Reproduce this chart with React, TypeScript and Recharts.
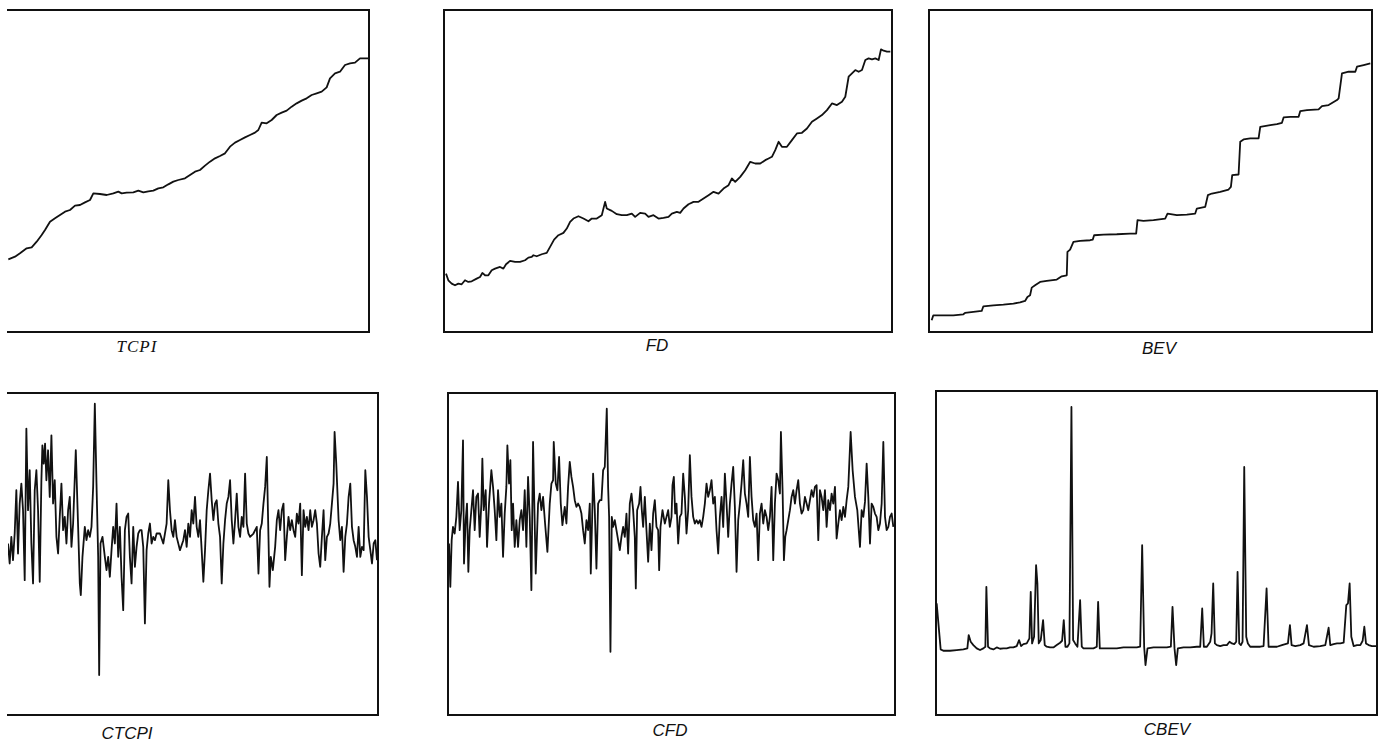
import React from 'react';
import { LineChart, Line, XAxis, YAxis } from 'recharts';

// each series is [t, value]; t is the sample position along the run
const TCPI: [number, number][] = [
  [25, 21.8], [45, 22.6], [60, 23.6], [80, 25.1], [95, 25.4], [110, 27.1], [125, 29.1], [135, 30.6],
  [150, 33.1], [165, 34.1], [180, 35.1], [195, 36.1], [210, 36.6], [225, 37.9], [240, 38.1], [255, 38.9],
  [270, 39.6], [280, 41.6], [300, 41.4], [320, 41.1], [340, 41.6], [355, 42.1], [365, 41.6], [380, 41.8],
  [400, 41.9], [415, 42.4], [430, 41.9], [445, 42.2], [460, 42.4], [475, 43.1], [490, 43.4], [505, 44.3],
  [520, 45.1], [535, 45.6], [555, 46.1], [570, 47.1], [585, 48.1], [600, 48.6], [615, 49.9], [630, 51.1],
  [645, 52.1], [660, 52.8], [675, 53.6], [690, 55.6], [705, 56.8], [720, 57.6], [735, 58.4], [750, 59.1],
  [765, 59.8], [775, 60.6], [785, 62.8], [800, 62.6], [815, 63.6], [830, 65.1], [845, 65.8], [860, 66.4],
  [875, 67.6], [890, 68.6], [905, 69.4], [920, 70.1], [935, 71.1], [950, 71.6], [965, 72.1], [980, 73.4],
  [990, 76.1], [1005, 77.6], [1020, 78.1], [1035, 80.1], [1050, 80.6], [1065, 80.8], [1080, 82.1],
  [1095, 82.1], [1105, 82.1],
];

const FD: [number, number][] = [
  [48, 17.5], [55, 15.5], [65, 14.5], [75, 14.0], [85, 14.5], [95, 14.3], [105, 15.5], [115, 15.0],
  [125, 15.2], [140, 16.0], [150, 16.5], [157, 17.7], [165, 17.0], [175, 17.0], [185, 18.5], [195, 19.0],
  [210, 19.5], [220, 19.0], [228, 20.3], [240, 21.3], [255, 21.0], [270, 21.0], [285, 21.5], [295, 22.3],
  [305, 22.5], [310, 23.0], [320, 22.7], [335, 23.3], [350, 23.7], [360, 25.5], [372, 27.7], [385, 29.0],
  [400, 29.7], [410, 31.0], [420, 33.0], [430, 34.0], [445, 34.7], [460, 34.0], [475, 33.2], [485, 34.0],
  [500, 34.0], [515, 35.0], [525, 39.0], [530, 37.0], [545, 36.3], [560, 35.3], [575, 35.0], [590, 35.0],
  [605, 35.5], [615, 34.5], [630, 35.7], [645, 35.5], [655, 34.5], [670, 35.0], [685, 34.0], [700, 34.2],
  [715, 34.5], [725, 35.5], [740, 36.0], [750, 35.7], [760, 37.0], [775, 38.3], [790, 39.0], [805, 39.0],
  [820, 40.0], [835, 41.0], [850, 42.0], [865, 41.5], [880, 43.0], [895, 44.0], [905, 46.0], [915, 45.0],
  [930, 46.5], [945, 48.5], [960, 51.0], [975, 50.5], [990, 50.5], [1005, 51.5], [1015, 52.0], [1025, 52.5],
  [1035, 54.5], [1045, 57.0], [1055, 55.5], [1070, 55.5], [1085, 57.5], [1100, 59.5], [1115, 59.7],
  [1130, 61.0], [1145, 63.0], [1160, 64.0], [1175, 65.0], [1190, 66.5], [1205, 68.5], [1220, 68.0],
  [1235, 69.0], [1245, 70.5], [1255, 76.5], [1265, 77.5], [1275, 78.5], [1285, 78.0], [1295, 78.5],
  [1305, 81.5], [1315, 82.0], [1325, 81.7], [1335, 82.0], [1345, 81.5], [1352, 84.7], [1360, 84.3],
  [1370, 84.0], [1380, 84.0],
];

const BEV: [number, number][] = [
  [65, 3.5], [70, 5.0], [100, 5.0], [130, 5.0], [160, 5.3], [165, 5.7], [190, 6.0], [215, 6.3], [220, 7.7],
  [250, 8.0], [280, 8.2], [310, 8.5], [330, 8.9], [345, 9.3], [352, 10.5], [360, 11.0], [365, 13.3],
  [375, 14.0], [390, 15.0], [410, 15.3], [440, 15.7], [455, 16.7], [470, 17.0], [472, 24.0], [480, 24.7],
  [490, 27.0], [510, 27.3], [540, 27.5], [548, 27.7], [552, 29.0], [580, 29.2], [620, 29.3], [660, 29.5],
  [678, 29.5], [682, 33.5], [700, 33.3], [730, 33.5], [765, 34.0], [772, 35.5], [800, 35.0], [830, 35.2],
  [855, 35.5], [860, 37.0], [885, 37.5], [893, 41.0], [905, 41.5], [930, 42.0], [955, 42.7], [962, 43.5],
  [966, 47.0], [985, 47.2], [990, 57.0], [1000, 57.7], [1020, 58.0], [1045, 58.0], [1050, 61.5],
  [1080, 62.0], [1100, 62.3], [1115, 62.7], [1120, 64.3], [1140, 64.5], [1165, 64.5], [1170, 66.2],
  [1190, 66.5], [1225, 66.7], [1235, 67.7], [1255, 68.0], [1280, 69.5], [1285, 70.0], [1295, 77.5],
  [1315, 78.0], [1335, 78.0], [1340, 79.5], [1360, 80.0], [1380, 80.5],
];

const CTCPI: [number, number][] = [
  [25, -0.2], [30, -0.8], [35, 0], [40, -0.7], [45, 0.1], [50, 1.4], [55, -0.5], [60, 1.0], [65, 1.6],
  [70, 0.8], [75, -1.3], [80, 3.25], [85, 0.8], [90, 2.0], [95, -0.2], [100, -1.4], [105, 1.4], [110, 2.0],
  [115, 0.8], [120, -1.35], [125, 1.7], [128, 2.75], [132, 2.2], [136, 2.8], [140, 1.7], [145, 2.6],
  [150, 1.2], [155, 3.05], [160, 1.0], [165, 1.7], [170, 0], [175, -0.5], [180, 0.6], [185, 1.6], [190, 0.2],
  [195, 0.6], [200, -0.2], [205, 0.8], [210, 1.2], [215, -0.3], [220, 0.4], [228, 2.6], [235, 0.3],
  [240, -1.4], [243, -1.75], [248, -0.6], [255, 0.3], [260, -0.1], [265, 0.2], [270, 0], [275, 0.3],
  [280, 1.5], [285, 4.0], [290, 1.6], [295, -0.6], [298, -4.15], [302, -0.2], [308, 0], [315, -0.6],
  [320, -1.0], [325, -0.6], [330, -1.2], [335, -0.4], [340, 0.3], [345, -0.2], [350, 1.0], [355, -0.6],
  [360, 0.3], [365, -1.2], [370, -2.2], [375, 0.2], [380, 0.6], [385, 0.7], [390, -0.6], [395, -1.4],
  [400, 0.3], [405, -0.9], [410, -0.3], [415, 0.1], [420, 0.2], [425, 0.2], [430, -0.3], [435, -2.6],
  [440, -0.4], [445, 0.1], [450, 0.4], [455, -0.2], [460, 0], [465, -0.1], [470, 0.1], [480, 0.1],
  [490, -0.2], [500, 0.4], [505, 1.7], [510, 0.8], [515, 0.2], [520, 0], [525, 0.5], [530, 0], [540, -0.4],
  [550, -0.1], [555, 0.2], [560, -0.3], [565, 0.4], [570, 0], [575, 0.8], [580, 0.4], [585, 1.2], [590, 0.3],
  [595, 0], [600, 0.5], [605, -0.4], [610, -1.35], [615, -0.4], [620, 0.8], [625, 1.4], [630, 1.9],
  [635, 1.1], [640, 0.5], [645, 1.0], [650, 1.1], [655, 0.4], [660, 0], [665, -1.4], [670, -0.2], [675, 0.5],
  [680, 1.0], [685, 1.2], [690, 1.7], [695, 0.5], [700, -0.2], [705, 0.5], [710, 1.3], [715, 0.3], [720, 0],
  [725, 0.6], [730, 0.3], [735, 1.9], [740, 0.4], [745, 0.1], [750, 0], [760, 0.1], [770, 0.3], [775, -1.1],
  [780, 0.2], [785, 0.4], [790, 1.0], [795, 1.5], [800, 2.4], [805, 0], [808, -1.5], [812, -0.6],
  [818, -1.0], [825, -0.3], [830, 0.5], [835, 0.8], [840, 0.2], [845, 0.8], [850, 1.0], [855, -0.7],
  [860, 0], [865, 0.6], [870, 0.2], [875, 0.5], [880, 0.2], [885, 0], [890, 0.7], [895, 0.4], [900, 1.0],
  [905, -1.15], [910, 0.8], [915, 0.3], [920, 0.6], [925, 0.2], [930, 0.8], [935, 0.3], [940, 0.5],
  [945, 0.8], [950, 0.4], [955, -0.5], [960, -0.9], [965, 0], [970, 0.8], [975, -0.7], [980, 0], [985, 0.1],
  [990, 0.4], [995, 1.0], [1000, 1.6], [1003, 3.15], [1008, 2.2], [1015, 0.5], [1020, -0.1], [1025, 0.3],
  [1030, -1.05], [1035, 0], [1040, 0.4], [1045, 1.2], [1050, 1.6], [1055, 0.3], [1060, -0.1], [1065, -0.3],
  [1070, -0.6], [1075, 0.3], [1080, -0.6], [1085, -0.3], [1090, -0.4], [1095, 2.0], [1100, 1.2],
  [1105, 0], [1110, -0.4], [1115, -0.8], [1120, -0.2], [1125, -0.1], [1130, -0.7],
];

const CFD: [number, number][] = [
  [58, -0.7], [62, -2.0], [66, -0.6], [70, -0.2], [75, -0.4], [80, 0.1], [85, 1.15], [90, -0.3], [95, 0.3],
  [100, 2.4], [103, -1.3], [108, 0], [112, 0.5], [116, -1.55], [120, -0.3], [125, 0.3], [130, 0.9],
  [135, -0.3], [140, 0.7], [145, 0.8], [150, -0.5], [155, 0.5], [158, 1.85], [162, 0.3], [168, 0.9],
  [172, -0.8], [178, 0.5], [185, 1.5], [190, 1.0], [195, 0.3], [200, -0.6], [205, 0.9], [210, 0.1],
  [215, 0.5], [220, -1.1], [225, 0.2], [230, 1.0], [233, 2.25], [238, 1.1], [242, 1.8], [246, -0.3],
  [250, 0.5], [255, -0.8], [260, 0], [265, -0.8], [270, 0], [275, 0.3], [280, -0.3], [285, 0.9], [290, -0.8],
  [295, 1.3], [300, 0.1], [305, -2.1], [310, 2.35], [318, -1.6], [325, 0.5], [330, 0.8], [335, 0.3],
  [340, 0.7], [346, -0.1], [353, -0.95], [360, 0.5], [365, 1.1], [370, 1.2], [372, 2.35], [378, 1.1],
  [383, 0.9], [388, 1.9], [393, 0.5], [398, -0.15], [405, 0.4], [410, -0.1], [415, 1.0], [420, 1.75],
  [425, 1.3], [430, 1.0], [435, 0.6], [440, 0.4], [445, 0.5], [450, 0.4], [455, 0.2], [460, -0.3],
  [465, -0.7], [470, 0], [475, -0.3], [480, 0.5], [483, -1.6], [487, 0], [490, 1.4], [495, 0.3],
  [500, -1.45], [505, 0.5], [510, 0.6], [515, 0.6], [520, 1.5], [525, 1.6], [531, 3.35], [535, 1.0],
  [538, 0.1], [542, -3.95], [546, 0.1], [550, -0.2], [555, 0], [560, -0.3], [565, -0.6], [570, -0.9],
  [575, -0.5], [580, -0.2], [585, -0.5], [590, 0.2], [595, -1.0], [600, 0.5], [605, 0.8], [610, 0.3],
  [615, -0.5], [618, -2.05], [622, 0.3], [628, 0.5], [632, 1.0], [636, 0.3], [640, -0.2], [645, 0.7],
  [650, -0.3], [655, -1.25], [660, -0.1], [665, -0.9], [670, 0.2], [675, 0.6], [680, -0.2], [685, -0.3],
  [688, -1.5], [692, -0.2], [698, 0.3], [705, -0.1], [710, 0.1], [715, 0.3], [720, -0.2], [725, 0.1],
  [728, 1.05], [732, 1.3], [736, 0.2], [740, 0.5], [745, -0.7], [750, 0.1], [755, 0.2], [760, 1.4],
  [765, 0.7], [770, -0.4], [775, 0.3], [780, 1.95], [785, 0.7], [790, 0.1], [795, -0.1], [800, 0],
  [805, -0.1], [810, 0], [815, -0.2], [820, 0.1], [825, 0.5], [830, 1.1], [835, 0.7], [840, 0.9], [845, 1.2],
  [850, 0.5], [855, 0.7], [860, -0.3], [865, -1.0], [870, 0.1], [875, 0.7], [880, -0.2], [885, 1.4],
  [890, 0.5], [895, -0.5], [900, 0.5], [905, 1.1], [910, 1.6], [915, 0.4], [920, -1.55], [925, 0],
  [930, 0.5], [935, 1.1], [940, 1.8], [945, 0.8], [950, 0.5], [955, 0.1], [960, 1.9], [965, 0.7], [970, 0],
  [975, -0.2], [980, 0.2], [985, -1.2], [990, 0.2], [995, 0.5], [1000, -0.1], [1005, 0.3], [1010, 0.1],
  [1015, -0.3], [1020, 0.1], [1025, 1.0], [1030, -1.2], [1035, 0.5], [1040, 1.4], [1045, 1.2], [1050, 0.8],
  [1053, 2.65], [1058, 0.9], [1062, -1.2], [1066, -0.5], [1070, -0.3], [1075, 0], [1080, 0.3], [1085, 0.7],
  [1090, 0.9], [1095, 0.5], [1100, 0.9], [1105, 1.2], [1110, 0.5], [1115, 0.2], [1120, 0.3], [1125, 0.7],
  [1130, 0.5], [1135, 0.3], [1140, 0.6], [1145, 0.9], [1150, 0.7], [1155, 1.0], [1160, 1.05], [1165, -0.6],
  [1170, 0.9], [1175, 0.7], [1180, 0.3], [1185, 0.9], [1190, -0.2], [1195, 0.6], [1200, 0.3], [1205, 0.8],
  [1210, 0.5], [1215, 1.0], [1220, -0.55], [1225, -0.1], [1230, 0.3], [1235, 0], [1240, 0.4], [1245, 0.1],
  [1250, 0.6], [1255, 1.0], [1262, 2.65], [1268, 1.5], [1275, 0.7], [1282, 0.3], [1290, -0.8], [1295, 0.3],
  [1300, 0.1], [1305, 0.55], [1310, 1.7], [1315, 0.7], [1320, -0.7], [1325, 0.5], [1330, 0.4], [1335, 0.2],
  [1340, 0.1], [1345, -0.3], [1350, -0.1], [1355, 0.5], [1360, 2.35], [1365, 0.1], [1370, -0.3],
  [1375, -0.2], [1380, 0.1], [1385, 0.2], [1390, -0.2],
];

const CBEV: [number, number][] = [
  [80, 1.4], [92, 0.02], [100, -0.02], [120, -0.02], [140, 0], [160, 0.02], [172, 0.05], [176, 0.45],
  [182, 0.25], [190, 0.15], [200, 0.05], [210, 0], [220, 0.05], [226, 0.1], [229, 1.9], [234, 0.1],
  [240, 0.05], [250, 0.02], [260, 0.08], [270, 0.04], [280, 0.05], [290, 0.05], [300, 0.08], [310, 0.08],
  [320, 0.12], [327, 0.3], [333, 0.12], [340, 0.18], [350, 0.2], [358, 0.35], [362, 1.75], [366, 0.2],
  [372, 0.4], [378, 2.55], [382, 2.0], [386, 0.2], [392, 0.3], [399, 0.9], [404, 0.15], [410, 0.1],
  [420, 0.08], [430, 0.08], [440, 0.15], [450, 0.22], [456, 0.28], [461, 0.9], [466, 0.1], [472, 0.1],
  [478, 0.2], [484, 7.3], [489, 0.3], [495, 0.2], [502, 0.1], [510, 1.5], [515, 0.1], [520, 0.05],
  [530, 0.05], [540, 0.05], [550, 0.05], [560, 0.1], [564, 1.45], [569, 0.05], [580, 0.05], [600, 0.05],
  [620, 0.05], [640, 0.08], [660, 0.08], [680, 0.08], [690, 0.1], [696, 3.15], [702, 0.1], [706, -0.45],
  [712, 0.05], [730, 0.08], [750, 0.08], [770, 0.08], [782, 0.1], [787, 1.3], [793, 0.05], [798, -0.45],
  [803, 0.05], [820, 0.08], [840, 0.08], [860, 0.1], [870, 0.1], [876, 1.25], [881, 0.1], [890, 0.1],
  [900, 0.25], [904, 0.5], [909, 2.0], [914, 0.2], [920, 0.15], [930, 0.12], [940, 0.15], [950, 0.15],
  [958, 0.25], [965, 0.2], [972, 0.18], [978, 0.25], [982, 2.35], [987, 0.2], [992, 0.15], [997, 0.25],
  [1002, 5.5], [1008, 0.4], [1013, 0.2], [1020, 0.1], [1030, 0.1], [1040, 0.1], [1050, 0.1], [1060, 0.12],
  [1069, 1.85], [1075, 0.1], [1085, 0.1], [1100, 0.1], [1115, 0.15], [1125, 0.18], [1133, 0.2],
  [1139, 0.75], [1144, 0.15], [1155, 0.12], [1170, 0.15], [1180, 0.2], [1190, 0.75], [1196, 0.15],
  [1210, 0.1], [1230, 0.12], [1245, 0.15], [1255, 0.67], [1260, 0.15], [1270, 0.18], [1280, 0.2],
  [1290, 0.2], [1300, 0.22], [1308, 1.35], [1313, 1.4], [1318, 2.0], [1323, 0.4], [1330, 0.12],
  [1340, 0.15], [1350, 0.15], [1357, 0.28], [1362, 0.7], [1367, 0.2], [1375, 0.15], [1385, 0.12],
  [1400, 0.12],
];

type Panel = {
  name: string;
  data: [number, number][];
  xDomain: [number, number];
  yDomain: [number, number];
  box: [number, number, number, number]; // left, top, right, bottom
  label: [number, number];
  serif?: boolean;
  noLeft?: boolean;
};

const PANELS: Panel[] = [
  { name: 'TCPI', data: TCPI, xDomain: [24, 1107], yDomain: [0, 96.6], box: [8, 10, 369, 332], label: [137, 347], serif: true, noLeft: true },
  { name: 'FD', data: FD, xDomain: [42, 1385], yDomain: [0, 96.5], box: [444, 10, 892, 332], label: [657, 346] },
  { name: 'BEV', data: BEV, xDomain: [57, 1385], yDomain: [0, 96.5], box: [929, 10, 1372, 332], label: [1159, 349] },
  { name: 'CTCPI', data: CTCPI, xDomain: [25, 1133], yDomain: [-5.35, 4.32], box: [8, 393, 378, 715], label: [127, 734], noLeft: true },
  { name: 'CFD', data: CFD, xDomain: [55, 1395], yDomain: [-5.85, 3.82], box: [448, 393, 895, 715], label: [670, 731] },
  { name: 'CBEV', data: CBEV, xDomain: [78, 1400], yDomain: [-1.95, 7.78], box: [936, 391, 1377, 715], label: [1167, 730] },
];

function PanelChart({ p }: { p: Panel }) {
  const [l, t, r, b] = p.box;
  const w = r - l;
  const h = b - t;
  const rows = p.data.map(([x, v]) => ({ t: x, v }));
  const border = '2px solid #111';
  return (
    <>
      <div
        style={{
          position: 'absolute', left: l - 1, top: t - 1, width: w + 2, height: h + 2, boxSizing: 'border-box',
          borderTop: border, borderRight: border, borderBottom: border, borderLeft: p.noLeft ? 'none' : border,
        }}
      />
      <div style={{ position: 'absolute', left: l, top: t }}>
        <LineChart width={w} height={h} data={rows} margin={{ top: 0, right: 0, bottom: 0, left: 0 }}>
          <XAxis type="number" dataKey="t" domain={p.xDomain} hide allowDataOverflow />
          <YAxis type="number" domain={p.yDomain} hide allowDataOverflow />
          <Line
            type="linear" dataKey="v" stroke="#111" strokeWidth={1.8} dot={false}
            strokeLinejoin="round" isAnimationActive={false}
          />
        </LineChart>
      </div>
      <div
        style={{
          position: 'absolute', left: p.label[0] - 60, top: p.label[1] - 10, width: 120, height: 20,
          lineHeight: '20px', textAlign: 'center', fontStyle: 'italic', fontSize: 17, color: '#111',
          fontFamily: p.serif ? '"Liberation Serif", serif' : '"Liberation Sans", Arial, sans-serif',
          letterSpacing: p.serif ? 1 : 0,
        }}
      >
        {p.name}
      </div>
    </>
  );
}

export default function App() {
  return (
    <div style={{ position: 'absolute', left: 0, top: 0, width: 1383, height: 748, background: '#fff', overflow: 'hidden' }}>
      {PANELS.map((p) => (
        <PanelChart key={p.name} p={p} />
      ))}
    </div>
  );
}
